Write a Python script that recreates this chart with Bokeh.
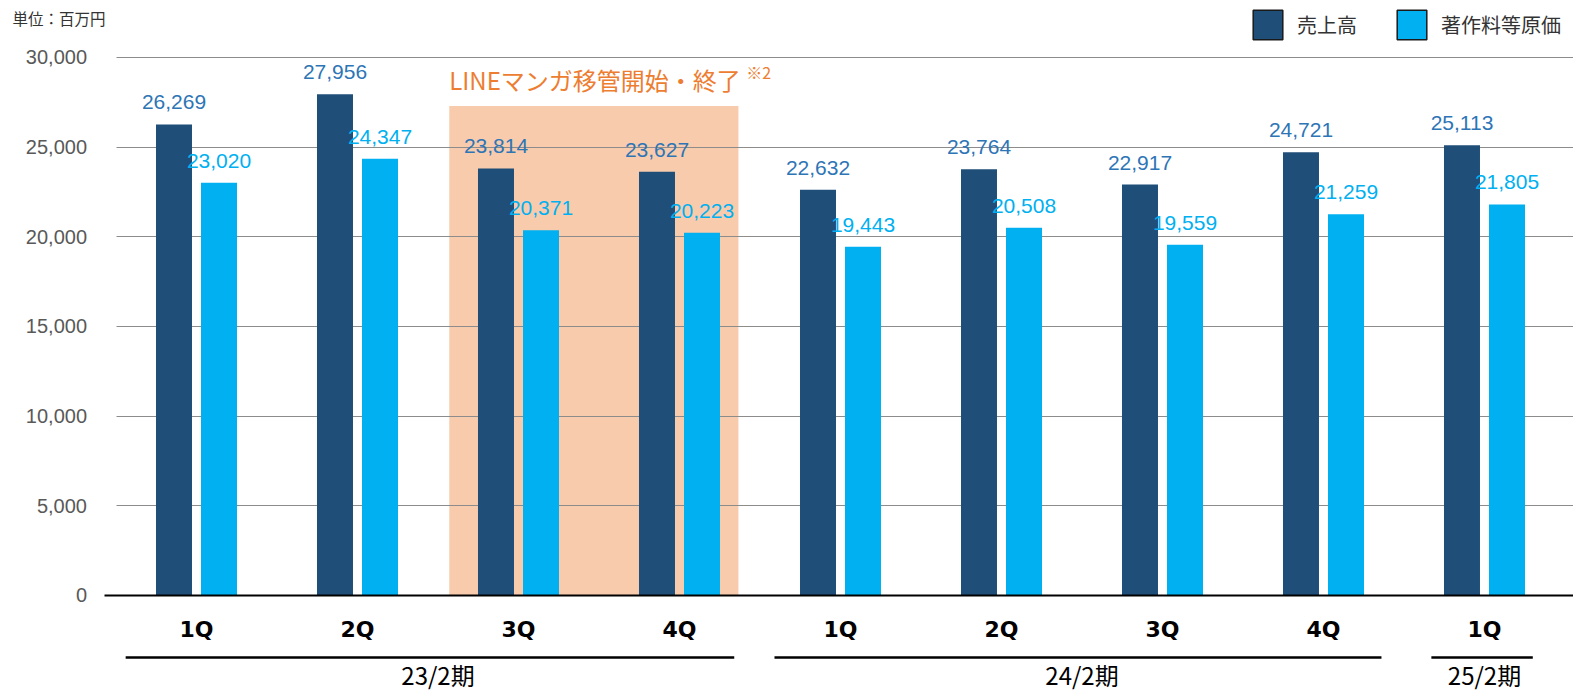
from bokeh.plotting import figure
from bokeh.models import (ColumnDataSource, FixedTicker, Legend, LegendItem, Label,
                          NumeralTickFormatter, Range1d)
from bokeh.core.properties import value
from bokeh.embed import file_html
from bokeh.resources import INLINE

# ---------------- data ----------------
periods = ["23/2期", "23/2期", "23/2期", "23/2期",
           "24/2期", "24/2期", "24/2期", "24/2期", "25/2期"]
quarters = ["1Q", "2Q", "3Q", "4Q", "1Q", "2Q", "3Q", "4Q", "1Q"]
sales = [26269, 27956, 23814, 23627, 22632, 23764, 22917, 24721, 25113]
royalty_cost = [23020, 24347, 20371, 20223, 19443, 20508, 19559, 21259, 21805]
series_names = ["売上高", "著作料等原価"]
group_names = ["23/2期", "24/2期", "25/2期"]
y_ticks = [0, 5000, 10000, 15000, 20000, 25000, 30000]
unit_text = "単位：百万円"
note_text = "LINEマンガ移管開始・終了"
note_sup = "※2"
highlight_quarters = [2, 3]          # 23/2期 3Q .. 4Q
highlight_top = 27300

# ---------------- style ----------------
DARK = "#1F4E79"
LIGHT = "#00B0F0"
DARK_LBL = "#2E75B6"
ORANGE = "#ED7D31"
HL_FILL = "#F8CBAD"
CJK = "Noto Sans CJK JP"

W, H = 1573, 693
x_lo, x_hi = -0.7174, 9.0528
y_lo, y_hi = -5465, 33178

idx = list(range(len(quarters)))
centers = [i + 0.5 for i in idx]
off, bw = 0.1398, 0.2236

src = ColumnDataSource(dict(
    xs=[c - off for c in centers],
    xc=[c + off for c in centers],
    sales=sales,
    cost=royalty_cost,
    sales_lbl=["{:,}".format(v) for v in sales],
    cost_lbl=["{:,}".format(v) for v in royalty_cost],
))

p = figure(width=W, height=H, x_range=Range1d(x_lo, x_hi), y_range=Range1d(y_lo, y_hi),
           output_backend="svg", toolbar_location=None, min_border=0)
p.outline_line_color = None
p.background_fill_color = "white"

# y axis (inside frame at x = 0)
p.yaxis.fixed_location = 0
p.yaxis.ticker = FixedTicker(ticks=y_ticks)
p.yaxis.formatter = NumeralTickFormatter(format="0,0")
p.yaxis.axis_line_color = None
p.yaxis.major_tick_line_color = None
p.yaxis.minor_tick_line_color = None
p.yaxis.major_label_standoff = 23
p.yaxis.major_label_text_font = "Liberation Sans"
p.yaxis.major_label_text_font_size = "20px"
p.yaxis.major_label_text_color = "#595959"

# x axis (at y = 0) with quarter labels
p.xaxis.fixed_location = 0
p.xaxis.ticker = FixedTicker(ticks=centers)
p.xaxis.major_label_overrides = {c: q for c, q in zip(centers, quarters)}
p.xaxis.bounds = (-0.072, x_hi)
p.xaxis.axis_line_color = "black"
p.xaxis.axis_line_width = 2
p.xaxis.major_tick_line_color = None
p.xaxis.minor_tick_line_color = None
p.xaxis.major_label_standoff = 16
p.xaxis.major_label_text_font = "DejaVu Sans"
p.xaxis.major_label_text_font_style = "bold"
p.xaxis.major_label_text_font_size = "22px"
p.xaxis.major_label_text_color = "black"

# grid
p.xgrid.visible = False
p.ygrid.ticker = FixedTicker(ticks=y_ticks)
p.ygrid.grid_line_color = "#8c8c8c"
p.ygrid.grid_line_width = 1
try:
    p.ygrid.cross_bounds = (0, x_hi)
except Exception:
    p.ygrid.visible = False
    gr = p.segment(x0=[0] * len(y_ticks), x1=[x_hi] * len(y_ticks), y0=y_ticks, y1=y_ticks,
                   line_color="#8c8c8c", line_width=1)
    gr.level = "underlay"

# highlight box (behind grid)
hl = p.quad(left=[highlight_quarters[0] + 0.07], right=[highlight_quarters[1] + 0.866],
            bottom=[0], top=[highlight_top], fill_color=HL_FILL, line_color=None)
hl.level = "image"

# bars
p.vbar(x="xs", top="sales", width=bw, source=src, fill_color=DARK, line_color=None)
p.vbar(x="xc", top="cost", width=bw, source=src, fill_color=LIGHT, line_color=None)

# value labels
p.text(x="xs", y="sales", text="sales_lbl", source=src,
       text_align="center", text_baseline="alphabetic", y_offset=-22,
       text_font=value("Liberation Sans"), text_font_size="21px", text_color=DARK_LBL)
p.text(x="xc", y="cost", text="cost_lbl", source=src,
       text_align="center", text_baseline="alphabetic", y_offset=-22,
       text_font=value("Liberation Sans"), text_font_size="21px", text_color=LIGHT)

# group lines and labels
g_first = [periods.index(g) for g in group_names]
g_last = [len(periods) - 1 - periods[::-1].index(g) for g in group_names]
inset_l = [0.06, 0.09, 0.17]
inset_r = [0.16, 0.14, 0.20]
gl_y = -3457
p.segment(x0=[f + a for f, a in zip(g_first, inset_l)],
          x1=[l + 1 - b for l, b in zip(g_last, inset_r)],
          y0=[gl_y] * 3, y1=[gl_y] * 3, line_color="black", line_width=2.5)
p.text(x=[(f + l + 1) / 2 for f, l in zip(g_first, g_last)], y=[-4405] * 3, text=group_names,
       text_align="center", text_baseline="middle",
       text_font=value(CJK), text_font_size="24px", text_color="black")

# annotation above highlight
p.add_layout(Label(x=highlight_quarters[0] + 0.07, y=28770, text=note_text, text_font=CJK,
                   text_font_size="24px", text_color=ORANGE, text_baseline="alphabetic"))
p.add_layout(Label(x=highlight_quarters[0] + 0.07, y=28770, x_offset=297, y_offset=8,
                   text=note_sup, text_font=CJK, text_font_size="16px", text_color=ORANGE,
                   text_baseline="alphabetic"))

# unit label
p.add_layout(Label(x=-0.643, y=32175, text=unit_text, text_font=CJK,
                   text_font_size="15.5px", text_color="#333333", text_baseline="middle"))

# legend with bordered squares (dummy renderers placed outside the view)
r1 = p.rect(x=[-5], y=[-1e6], width=1, height=1, fill_color=DARK,
            line_color="#1a1a1a", line_width=1.5)
r2 = p.rect(x=[-5], y=[-1e6], width=1, height=1, fill_color=LIGHT,
            line_color="#1a1a1a", line_width=1.5)
leg = Legend(items=[LegendItem(label=series_names[0], renderers=[r1]),
                    LegendItem(label=series_names[1], renderers=[r2])],
             location=(1249, 650), orientation="horizontal",
             glyph_width=37, glyph_height=37, label_standoff=11, spacing=36,
             padding=0, margin=0, border_line_color=None,
             background_fill_alpha=0,
             label_text_font=CJK, label_text_font_size="20px",
             label_text_color="#333333")
p.add_layout(leg, "center")

open("out.html", "w").write(file_html(p, INLINE))
